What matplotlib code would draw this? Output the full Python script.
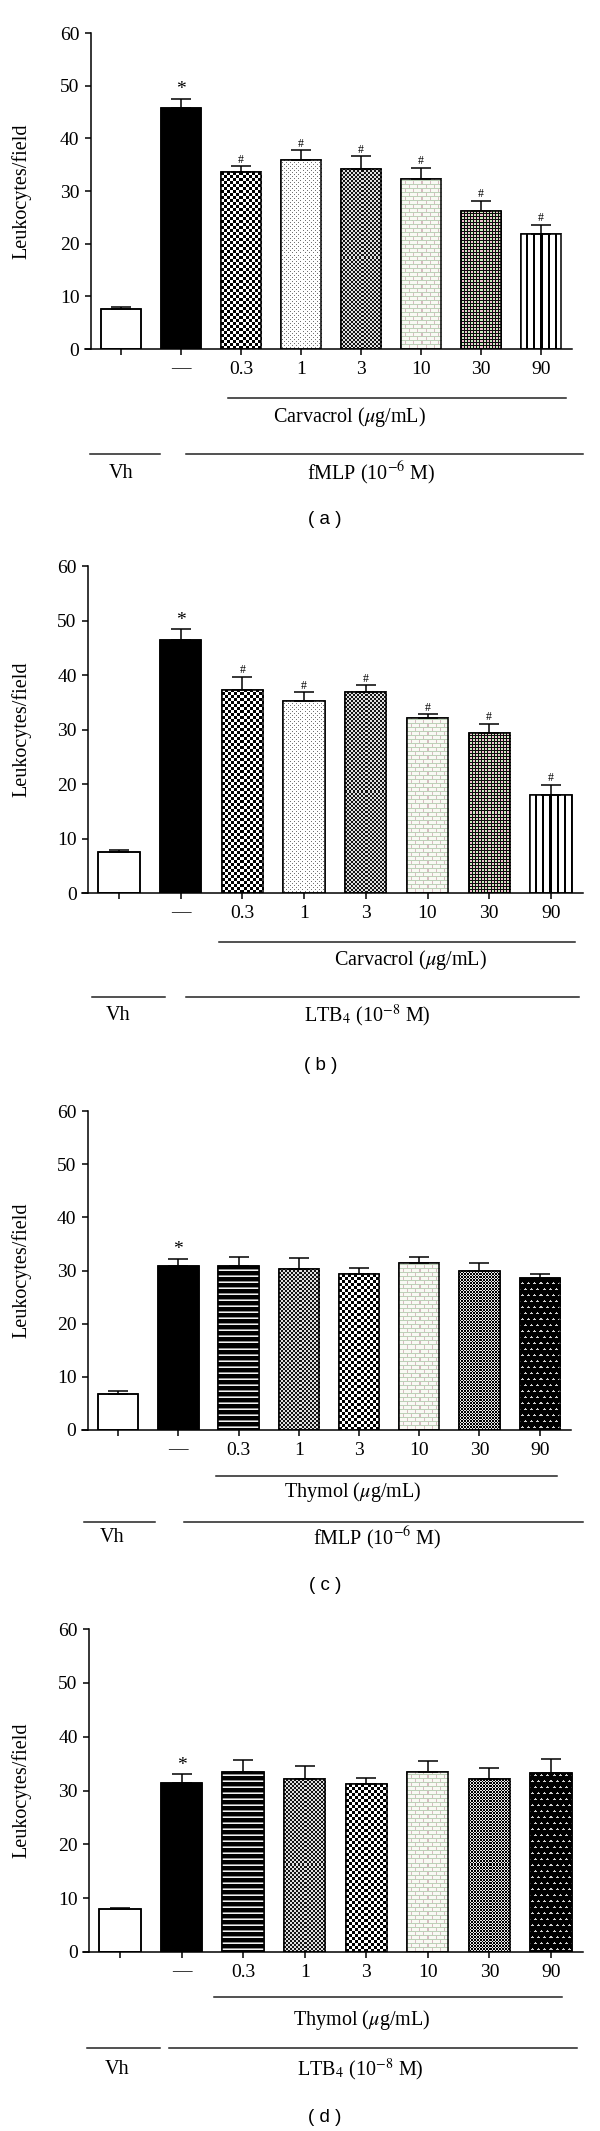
import numpy as np
import matplotlib
matplotlib.use("Agg")
import matplotlib.pyplot as plt
from matplotlib.lines import Line2D

plt.rcParams['font.family'] = ['Liberation Serif', 'DejaVu Serif']
plt.rcParams['mathtext.fontset'] = 'stix'

W, H = 600, 2131

groups = ['', '\u2014', '0.3', '1', '3', '10', '30', '90']

# (a) carvacrol + fMLP
carv_fmlp = [7.6, 45.7, 33.6, 35.9, 34.2, 32.2, 26.2, 21.9]
carv_fmlp_err = [0.3, 1.8, 1.1, 1.8, 2.4, 2.2, 1.9, 1.7]
# (b) carvacrol + LTB4
carv_ltb4 = [7.6, 46.5, 37.2, 35.2, 36.9, 32.2, 29.4, 18.0]
carv_ltb4_err = [0.2, 1.9, 2.5, 1.6, 1.2, 0.6, 1.6, 1.8]
# (c) thymol + fMLP
thym_fmlp = [6.7, 30.9, 30.9, 30.2, 29.3, 31.5, 30.0, 28.5]
thym_fmlp_err = [0.6, 1.3, 1.6, 2.2, 1.1, 1.1, 1.4, 0.9]
# (d) thymol + LTB4
thym_ltb4 = [7.9, 31.4, 33.4, 32.2, 31.2, 33.5, 32.2, 33.2]
thym_ltb4_err = [0.2, 1.6, 2.2, 2.4, 1.2, 2.0, 1.9, 2.7]

marks_carv = ['', '*', '#', '#', '#', '#', '#', '#']
marks_thym = ['', '*', '', '', '', '', '', '']

fills_carv = ['white', 'black', 'checker', 'dots', 'fine', 'brick', 'grid', 'vstripe']
fills_thym = ['white', 'black', 'hstripe', 'fine', 'checker', 'brick', 'maze', 'tri']


def texture(kind, nx, ny):
    yy, xx = np.mgrid[0:ny, 0:nx]
    img = np.ones((ny, nx, 3))
    if kind == 'checker':
        img[((xx // 3 + yy // 3) % 2) == 0] = 0
    elif kind == 'dots':
        m = ((xx % 4 == 1) & (yy % 4 == 1)) | ((xx % 4 == 3) & (yy % 4 == 3))
        img[m] = 0.45
    elif kind == 'fine':
        img[((xx // 2 + yy // 2) % 2) == 0] = 0.08
        img[((xx // 2 + yy // 2) % 2) == 1] = 0.88
    elif kind == 'brick':
        img[:] = (0.98, 0.98, 0.96)
        row = yy // 4
        mh = yy % 4 == 0
        mv = ((xx + 4 * (row % 2)) % 8 == 0) & ~mh
        img[mh] = (0.74, 0.82, 0.72)
        img[mv] = (0.84, 0.74, 0.76)
    elif kind == 'grid':
        cell = ((xx // 3 + yy // 3) % 2) == 0
        img[cell] = (0.95, 0.74, 0.82)
        img[~cell] = (0.78, 0.93, 0.74)
        img[(xx % 3 == 0) | (yy % 3 == 0)] = 0.05
    elif kind == 'vstripe':
        img[(xx % 7 == 5) | (xx % 7 == 6)] = 0
    elif kind == 'hstripe':
        img[:] = 0
        img[yy % 6 == 2] = 0.95
        img[yy % 6 == 3] = 0.55
    elif kind == 'maze':
        img[:] = 0
        img[(xx % 3 == 1) ^ (yy % 3 == 1)] = 0.92
    elif kind == 'tri':
        img[:] = 0
        r = yy // 6
        sx = (xx + 3 * (r % 2)) % 6
        sy = yy % 6
        img[(sy == 2) & (sx >= 1) & (sx <= 3)] = 0.82
        img[(sy == 3) & (sx == 2)] = 0.82
    return img


fig = plt.figure(figsize=(W / 100, H / 100), dpi=100)


def hline(x0, x1, y):
    fig.add_artist(Line2D([x0 / W, x1 / W], [1 - y / H] * 2, transform=fig.transFigure,
                          color='#222222', lw=1.1))


def label(x, y, s, size=14.5, **kw):
    fig.text(x / W, 1 - y / H, s, ha='center', va='center', fontsize=size, **kw)


def panel(box, means, errs, fills, marks, lines, texts):
    L, R, T, B = box
    ax = fig.add_axes([L / W, 1 - B / H, (R - L) / W, (B - T) / H])
    x = np.arange(len(groups))
    ax.set_xlim(-0.6, 7.52)
    ax.set_ylim(0, 60)
    bars = ax.bar(x, means, width=0.67, color='white', edgecolor='black', linewidth=1.1, zorder=2)
    for bar, kind in zip(bars, fills):
        if kind == 'black':
            bar.set_facecolor('black')
            continue
        if kind == 'white':
            continue
        x0, w, h = bar.get_x(), bar.get_width(), bar.get_height()
        (p0x, p0y), (p1x, p1y) = ax.transData.transform([(x0, 0), (x0 + w, h)])
        nx, ny = int(round(p1x - p0x)), int(round(p1y - p0y))
        im = ax.imshow(texture(kind, nx, ny), extent=(x0, x0 + w, 0, h), origin='lower',
                       interpolation='nearest', aspect='auto', zorder=2.1)
        im.set_clip_path(bar)
    ax.bar(x, means, width=0.67, fill=False, edgecolor='black', linewidth=1.1, zorder=3)
    ax.errorbar(x, means, yerr=[np.zeros(len(x)), errs], fmt='none', ecolor='black',
                elinewidth=1.1, capsize=7, capthick=1.1, zorder=4)
    for xi, m, e, s in zip(x, means, errs, marks):
        if s:
            ax.annotate(s, (xi, m + e), xytext=(0, 0.5), textcoords='offset points',
                        ha='center', va='bottom', fontsize=14 if s == '*' else 8.5)
    ax.set_xlim(-0.6, 7.52)
    ax.set_ylim(0, 60)
    for s in ['top', 'right']:
        ax.spines[s].set_visible(False)
    ax.spines['left'].set_position(('data', -0.5))
    ax.spines['left'].set_linewidth(1.1)
    ax.spines['bottom'].set_linewidth(1.1)
    ax.set_xticks(x)
    ax.set_xticklabels(groups)
    ax.set_yticks(range(0, 61, 10))
    ax.tick_params(axis='both', length=4.3, width=1.1, labelsize=14, colors='black')
    ax.tick_params(axis='x', pad=4)
    ax.tick_params(axis='y', pad=4)
    ax.set_ylabel('Leukocytes/field', fontsize=14.5)
    ax.yaxis.set_label_coords((31 - L) / (R - L), 0.5)
    for x0, x1, y in lines:
        hline(x0, x1, y)
    for xx, yy, s in texts[:-1]:
        label(xx, yy, s)
    xx, yy, s = texts[-1]
    label(xx, yy, s, size=13.5, family=['Liberation Sans', 'DejaVu Sans'])
    return ax


carv = r'Carvacrol ($\mu$g/mL)'
thym = r'Thymol ($\mu$g/mL)'
fmlp = r'fMLP (10$^{-6}$ M)'
ltb4 = r'LTB$_4$ (10$^{-8}$ M)'

panel((85, 572, 33, 349), carv_fmlp, carv_fmlp_err, fills_carv, marks_carv,
      [(228, 566, 398), (90, 160, 454), (186, 583, 454)],
      [(350, 417, carv), (121, 473, 'Vh'), (371, 473, fmlp), (325, 520, '( a )')])

panel((82, 583, 566, 893), carv_ltb4, carv_ltb4_err, fills_carv, marks_carv,
      [(219, 575, 942), (92, 165, 997), (186, 579, 997)],
      [(411, 960, carv), (118, 1016, 'Vh'), (367, 1016, ltb4), (321, 1065, '( b )')])

panel((82, 571, 1111, 1430), thym_fmlp, thym_fmlp_err, fills_thym, marks_thym,
      [(216, 557, 1476), (84, 155, 1522), (184, 583, 1522)],
      [(353, 1492, thym), (112, 1538, 'Vh'), (377, 1538, fmlp), (325, 1585, '( c )')])

panel((83, 583, 1629, 1952), thym_ltb4, thym_ltb4_err, fills_thym, marks_thym,
      [(214, 562, 1997), (87, 160, 2048), (169, 577, 2048)],
      [(362, 2020, thym), (117, 2070, 'Vh'), (360, 2070, ltb4), (325, 2117, '( d )')])

fig.savefig('out.png', dpi=100)
